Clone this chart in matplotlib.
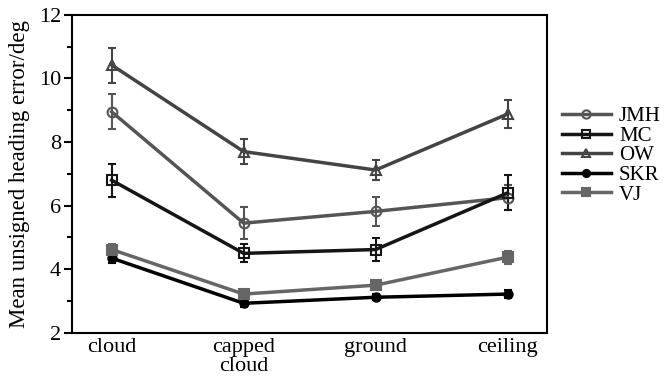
import numpy as np
import matplotlib
matplotlib.use("Agg")
import matplotlib.pyplot as plt

plt.rcParams['font.family'] = ['Liberation Serif', 'DejaVu Serif']

# Conditions and per-subject means with error bars
conditions = ['cloud', 'capped\ncloud', 'ground', 'ceiling']
subjects = ['JMH', 'MC', 'OW', 'SKR', 'VJ']

jmh     = [8.95, 5.45, 5.82, 6.25]
jmh_err = [0.55, 0.50, 0.45, 0.40]
mc      = [6.80, 4.50, 4.62, 6.40]
mc_err  = [0.52, 0.28, 0.35, 0.55]
ow      = [10.42, 7.70, 7.12, 8.88]
ow_err  = [0.55, 0.38, 0.32, 0.45]
skr     = [4.35, 2.93, 3.12, 3.22]
skr_err = [0.15, 0.13, 0.10, 0.13]
vj      = [4.62, 3.22, 3.50, 4.38]
vj_err  = [0.16, 0.08, 0.10, 0.20]

series = [jmh, mc, ow, skr, vj]
errors = [jmh_err, mc_err, ow_err, skr_err, vj_err]
colors = ['#555555', '#151515', '#444444', '#000000', '#666666']
markers = ['o', 's', '^', 'o', 's']
mfc = ['none', 'none', 'none', None, None]
msize = [7, 7, 7, 6, 7]

fig = plt.figure(figsize=(6.68, 3.8), dpi=100)
ax = fig.add_axes([0.108, 0.124, 0.711, 0.837])

x = np.arange(len(conditions))
handles = []
for name, y, e, c, m, fc, ms in zip(subjects, series, errors, colors, markers, mfc, msize):
    kw = dict(markerfacecolor=fc) if fc else {}
    eb = ax.errorbar(x, y, yerr=e, color=c, lw=2.5, marker=m, ms=ms, mew=1.5,
                     capsize=3, elinewidth=1.5, capthick=1.5, label=name, **kw)
    handles.append(eb[0])

ax.set_xlim(-0.3, 3.3)
ax.set_ylim(2, 12)
ax.set_xticks(x)
ax.set_xticklabels(conditions, fontsize=16, linespacing=0.95)
ax.tick_params(axis='x', length=0, pad=4)
ax.set_yticks([2, 4, 6, 8, 10, 12])
ax.set_yticks(np.arange(3, 12, 1), minor=True)
ax.tick_params(axis='y', which='major', length=6, width=1.5, labelsize=16, pad=2)
ax.tick_params(axis='y', which='minor', length=3.5, width=1.5)
for s in ax.spines.values():
    s.set_linewidth(1.5)
ax.set_ylabel('Mean unsigned heading error/deg', fontsize=16.5, labelpad=6)

ax.legend(handles, subjects, loc='upper left', bbox_to_anchor=(1.0, 0.757),
          frameon=False, fontsize=15, handlelength=2.35, labelspacing=0.0,
          borderaxespad=0.3, handletextpad=0.4, markerscale=0.85)

fig.savefig('out.png', dpi=100)
